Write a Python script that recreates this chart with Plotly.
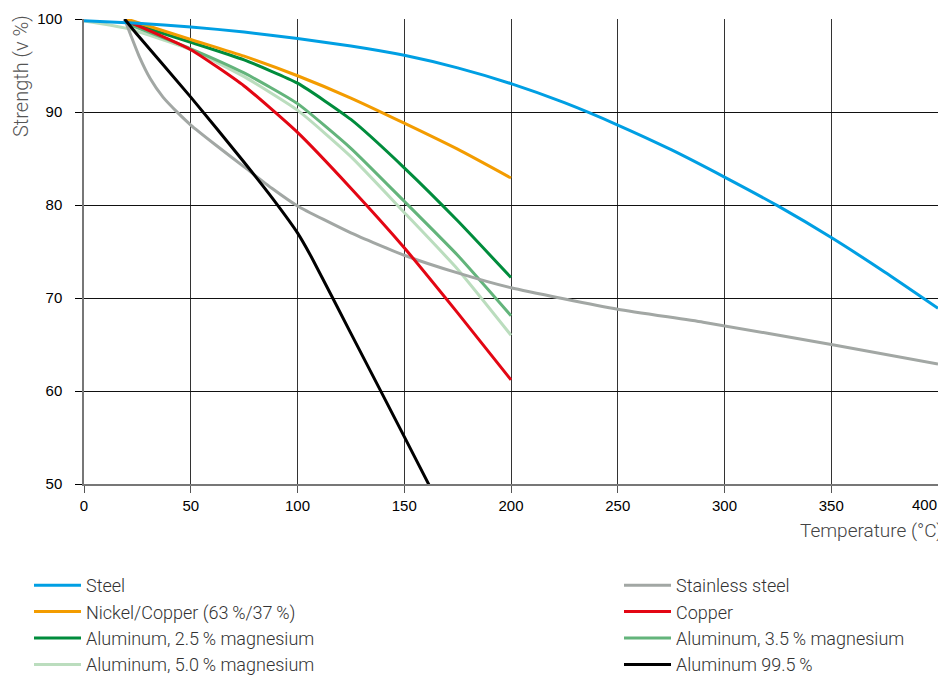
import plotly.graph_objects as go

# --- data ---
steel_x = [0, 25, 50, 75, 100, 125, 150, 175, 200, 225, 250, 275, 300, 325, 350, 375, 400]
steel_y = [99.8, 99.55, 99.15, 98.6, 97.9, 97.1, 96.1, 94.75, 93.05, 91.0, 88.6, 85.95, 83.0, 79.9, 76.5, 72.8, 68.9]

stainless_x = [19, 22, 26, 31, 37, 44, 50, 62, 75, 88, 100, 125, 150, 175, 200, 250, 290, 350, 400]
stainless_y = [100, 98.2, 95.9, 93.6, 91.6, 89.9, 88.6, 86.4, 84.1, 81.8, 79.9, 77.0, 74.6, 72.7, 71.1, 68.8, 67.4, 65.0, 62.9]

nicu_x = [20, 50, 75, 100, 125, 150, 175, 200]
nicu_y = [100, 97.8, 96.0, 93.9, 91.5, 88.8, 86.0, 82.9]

copper_x = [20, 50, 75, 100, 125, 150, 175, 200]
copper_y = [99.8, 96.7, 92.8, 87.8, 81.8, 75.4, 68.4, 61.2]

al25_x = [20, 50, 75, 100, 125, 150, 175, 200]
al25_y = [99.7, 97.5, 95.6, 93.1, 89.2, 84.0, 78.3, 72.2]

al35_x = [20, 50, 75, 100, 125, 150, 175, 200]
al35_y = [99.5, 96.8, 94.2, 90.9, 86.1, 80.4, 74.6, 68.1]

al50_x = [0, 20, 50, 75, 100, 125, 150, 175, 200]
al50_y = [99.8, 99.0, 96.7, 93.8, 90.2, 85.2, 79.2, 73.1, 66.0]

al995_x = [19, 25, 50, 75, 89, 100, 107, 125, 150, 162.5]
al995_y = [100, 98.3, 91.6, 84.6, 80.5, 77.0, 74.2, 66.2, 55.1, 49.5]

x_ticks = [0, 50, 100, 150, 200, 250, 300, 350, 400]
x_tick_labels = ["0", "50", "100", "150", "200", "250", "300", "350", "400"]
y_ticks = [50, 60, 70, 80, 90, 100]

TS = "\u2009"  # thin space used in the percentages

left_series = [
    ("Steel", steel_x, steel_y, "#009FE3"),
    ("Nickel/Copper (63" + TS + "%/37" + TS + "%)", nicu_x, nicu_y, "#F39C00"),
    ("Aluminum, 2.5" + TS + "% magnesium", al25_x, al25_y, "#008C3C"),
    ("Aluminum, 5.0" + TS + "% magnesium", al50_x, al50_y, "#BBDDBE"),
]
right_series = [
    ("Stainless steel", stainless_x, stainless_y, "#A2A7A4"),
    ("Copper", copper_x, copper_y, "#E30613"),
    ("Aluminum, 3.5" + TS + "% magnesium", al35_x, al35_y, "#63B47B"),
    ("Aluminum 99.5" + TS + "%", al995_x, al995_y, "#000000"),
]

traces = {}
for i, (name, xs, ys, col) in enumerate(left_series):
    traces[name] = go.Scatter(x=xs, y=ys, name=name, mode="lines",
                              line=dict(color=col, width=3, shape="spline", smoothing=0.5),
                              legend="legend", legendrank=i + 1)
for i, (name, xs, ys, col) in enumerate(right_series):
    traces[name] = go.Scatter(x=xs, y=ys, name=name, mode="lines",
                              line=dict(color=col, width=3, shape="spline", smoothing=0.5),
                              legend="legend2", legendrank=i + 1)

draw_names = [left_series[3][0], right_series[2][0], right_series[0][0], left_series[2][0],
              right_series[1][0], left_series[1][0], left_series[0][0], right_series[3][0]]

fig = go.Figure()
for n in draw_names:
    fig.add_trace(traces[n])

# the page body adds an 8px margin: positions below are screen pixels
OFF = 8
W, H = 946 - OFF, 678 - OFF
PLOT_L, PLOT_R, PLOT_T, PLOT_B = 84 - OFF, 938 - OFF, 19 - OFF, 484 - OFF
pw, ph = PLOT_R - PLOT_L, PLOT_B - PLOT_T

def px_x(p):
    return (p - OFF - PLOT_L) / pw

def px_y(p):
    return (PLOT_B - (p - OFF)) / ph

legend_font = dict(family="Roboto, sans-serif", size=18, color="#333", weight=300)
tick_font = dict(family="Liberation Sans, Arial, sans-serif", size=15, color="#000")

# last tick label is kept inside the chart (right-aligned at the edge, as in the reference)
tick_text = list(x_tick_labels[:-1]) + [""]

fig.update_layout(
    width=W, height=H,
    margin=dict(l=PLOT_L, r=W - PLOT_R, t=PLOT_T, b=H - PLOT_B, autoexpand=False),
    paper_bgcolor="white", plot_bgcolor="white",
    font=dict(family="Liberation Sans, Arial, sans-serif", size=15, color="#000"),
    showlegend=True,
    legend=dict(orientation="v", x=px_x(29), y=px_y(567), xanchor="left", yanchor="top",
                font=legend_font, itemwidth=47, tracegroupgap=0, traceorder="normal",
                bgcolor="rgba(0,0,0,0)"),
    legend2=dict(orientation="v", x=px_x(619), y=px_y(567), xanchor="left", yanchor="top",
                 font=legend_font, itemwidth=47, tracegroupgap=0, traceorder="normal",
                 bgcolor="rgba(0,0,0,0)"),
    xaxis=dict(
        range=[0, 400], tickvals=x_ticks, ticktext=tick_text,
        showgrid=True, gridcolor="#333", gridwidth=1,
        zeroline=False, showline=True, linecolor="#777", linewidth=1.5,
        ticks="outside", ticklen=7, tickcolor="#555",
        tickfont=tick_font,
        fixedrange=True,
    ),
    yaxis=dict(
        range=[50, 100], tickvals=y_ticks, ticktext=[str(v) for v in y_ticks],
        showgrid=True, gridcolor="#111", gridwidth=1,
        zeroline=False, showline=True, linecolor="#777", linewidth=1.5,
        ticks="outside", ticklen=7, tickcolor="#000", ticklabelstandoff=10,
        tickfont=tick_font,
        fixedrange=True,
    ),
    annotations=[
        dict(text="Strength (v %)", xref="paper", yref="paper",
             x=px_x(21), y=px_y(13), xanchor="center", yanchor="top", textangle=-90,
             showarrow=False,
             font=dict(family="Roboto, sans-serif", size=20, color="#555", weight=300)),
        dict(text="Temperature (°C)", xref="paper", yref="paper",
             x=px_x(944), y=px_y(517), xanchor="right", yanchor="top", showarrow=False,
             font=dict(family="Roboto, sans-serif", size=19, color="#444", weight=300)),
        dict(text=x_tick_labels[-1], xref="x", yref="paper",
             x=x_ticks[-1], xshift=1, y=px_y(494), xanchor="right", yanchor="top",
             showarrow=False, font=tick_font),
    ],
)

fig.write_html("out.html")
